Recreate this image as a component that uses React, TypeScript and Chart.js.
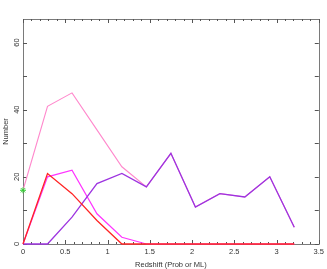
import React, { useEffect, useRef } from "react";
import { Chart, registerables } from "chart.js";

Chart.register(...registerables);

const redshift = [0, 0.29, 0.58, 0.875, 1.17, 1.46, 1.75, 2.04, 2.33, 2.625, 2.92, 3.21];
const totalCounts = [16, 41, 45, 34, 23, 17, 27, 11, 15, 14, 20, 5];
const redCounts = [0, 21, 15, 7, 0, 0, 0, 0, 0, 0, 0, 0];
const magentaCounts = [0, 20, 22, 9, 2, 0, 0, 0, 0, 0, 0, 0];
const purpleCounts = [0, 0, 8, 18, 21, 17, 27, 11, 15, 14, 20, 5];
const markerX = [0];
const markerY = [16];

const xMajorTicks = [0, 0.5, 1, 1.5, 2, 2.5, 3, 3.5];
const xMinorStep = 0.1;
const yLabelTicks = [0, 20, 40, 60];
const yTickValues = [0, 10, 20, 30, 40, 50, 60];

const FONT = "'Liberation Sans', Arial, sans-serif";

const pts = (ys: number[]) => ys.map((y, i) => ({ x: redshift[i], y }));

const framePlugin = {
  id: "frame",
  beforeDatasetsDraw(chart: any) {
    const { ctx, chartArea } = chart;
    const { left, right, top, bottom } = chartArea;
    const xs = chart.scales.x;
    const ys = chart.scales.y;
    ctx.save();
    ctx.strokeStyle = "#7a7a7a";
    ctx.lineWidth = 1;
    ctx.beginPath();
    ctx.rect(Math.round(left) + 0.5, Math.round(top) + 0.5, Math.round(right - left), Math.round(bottom - top));
    ctx.stroke();
    ctx.strokeStyle = "#555";
    ctx.beginPath();
    for (let v = 0; v <= 3.5 + 1e-9; v += xMinorStep) {
      const r = Math.round(v * 10) / 10;
      const major = xMajorTicks.some((m) => Math.abs(m - r) < 1e-6);
      const len = major ? 4 : 2;
      const px = Math.round(xs.getPixelForValue(r)) + 0.5;
      ctx.moveTo(px, bottom);
      ctx.lineTo(px, bottom - len);
      ctx.moveTo(px, top);
      ctx.lineTo(px, top + len);
    }
    for (const v of yTickValues) {
      const py = Math.round(ys.getPixelForValue(v)) + 0.5;
      ctx.moveTo(left, py);
      ctx.lineTo(left + 4, py);
      ctx.moveTo(right, py);
      ctx.lineTo(right - 4, py);
    }
    ctx.stroke();
    ctx.restore();
  },
};

export default function App() {
  const ref = useRef<HTMLCanvasElement | null>(null);
  useEffect(() => {
    document.body.style.margin = "0";
    const canvas = ref.current;
    if (!canvas) return;
    const line = (label: string, data: number[], color: string, w: number) => ({
      label,
      data: pts(data),
      borderColor: color,
      borderWidth: w,
      pointRadius: 0,
      clip: false,
    });
    const chart = new Chart(canvas, {
      type: "line",
      data: {
        datasets: [
          {
            label: "marker",
            data: markerX.map((x, i) => ({ x, y: markerY[i] })),
            showLine: false,
            pointStyle: "star",
            pointRadius: 3,
            borderColor: "#33cc33",
            backgroundColor: "#33cc33",
            borderWidth: 1,
            clip: false,
          } as any,
          line("red", redCounts, "#ff2424", 1.3),
          line("purple", purpleCounts, "#9d34e0", 1.3),
          line("magenta", magentaCounts, "#ff33ff", 1.2),
          line("total", totalCounts, "#ff88cc", 1.1),
        ],
      },
      options: {
        responsive: false,
        animation: false,
        layout: { padding: { top: 19, right: 8, left: 0, bottom: 0 } },
        plugins: { legend: { display: false }, tooltip: { enabled: false } },
        scales: {
          x: {
            type: "linear",
            min: 0,
            max: 3.5,
            grid: { display: false, drawTicks: false },
            border: { display: false },
            ticks: {
              stepSize: 0.5,
              padding: 3,
              color: "#333",
              font: { family: FONT, size: 7.5 },
              callback: (v: any) => String(+v),
              maxRotation: 0,
              autoSkip: false,
            },
            title: {
              display: true,
              text: "Redshift (Prob or ML)",
              color: "#333",
              font: { family: FONT, size: 7.5 },
              padding: { top: 0, bottom: 0 },
            },
            afterFit: (s: any) => {
              s.height = 25;
            },
          },
          y: {
            min: 0,
            max: 67,
            grid: { display: false, drawTicks: false },
            border: { display: false },
            afterBuildTicks: (s: any) => {
              s.ticks = yLabelTicks.map((value) => ({ value }));
            },
            ticks: {
              padding: 2,
              minRotation: 90,
              maxRotation: 90,
              crossAlign: "center",
              autoSkip: false,
              color: "#333",
              font: { family: FONT, size: 7.5 },
              callback: (v: any) => String(+v),
            },
            title: {
              display: true,
              text: "Number",
              color: "#333",
              font: { family: FONT, size: 7.5 },
              padding: { top: 1, bottom: 0 },
            },
            afterFit: (s: any) => {
              s.width = 23;
            },
          },
        },
      } as any,
      plugins: [framePlugin],
    });
    return () => chart.destroy();
  }, []);
  return <canvas ref={ref} width={327} height={269} style={{ display: "block" }} />;
}
